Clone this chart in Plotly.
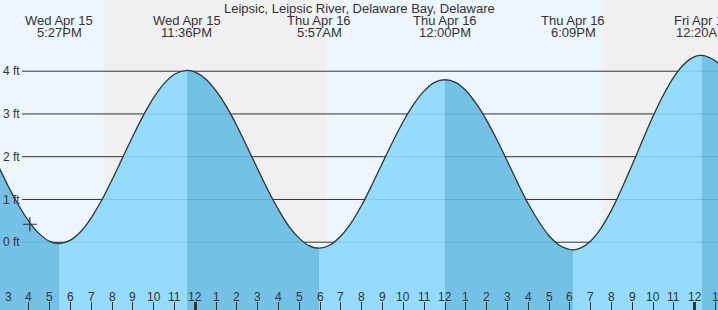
import pandas as pd
import plotly.graph_objects as go

TITLE = "Leipsic, Leipsic River, Delaware Bay, Delaware"

# Tide curve heights (ft), roughly every half hour
TIMES = [
    "2026-04-15 13:30", "2026-04-15 14:00", "2026-04-15 14:30", "2026-04-15 15:00",
    "2026-04-15 15:30", "2026-04-15 16:00", "2026-04-15 16:30", "2026-04-15 17:00",
    "2026-04-15 17:27", "2026-04-15 18:00", "2026-04-15 18:30", "2026-04-15 19:00",
    "2026-04-15 19:30", "2026-04-15 20:00", "2026-04-15 20:30", "2026-04-15 21:00",
    "2026-04-15 21:30", "2026-04-15 22:00", "2026-04-15 22:30", "2026-04-15 23:00",
    "2026-04-15 23:36", "2026-04-16 00:00", "2026-04-16 00:30", "2026-04-16 01:00",
    "2026-04-16 01:30", "2026-04-16 02:00", "2026-04-16 02:30", "2026-04-16 03:00",
    "2026-04-16 03:30", "2026-04-16 04:00", "2026-04-16 04:30", "2026-04-16 05:00",
    "2026-04-16 05:30", "2026-04-16 05:57", "2026-04-16 06:30", "2026-04-16 07:00",
    "2026-04-16 07:30", "2026-04-16 08:00", "2026-04-16 08:30", "2026-04-16 09:00",
    "2026-04-16 09:30", "2026-04-16 10:00", "2026-04-16 10:30", "2026-04-16 11:00",
    "2026-04-16 11:30", "2026-04-16 12:00", "2026-04-16 12:30", "2026-04-16 13:00",
    "2026-04-16 13:30", "2026-04-16 14:00", "2026-04-16 14:30", "2026-04-16 15:00",
    "2026-04-16 15:30", "2026-04-16 16:00", "2026-04-16 16:30", "2026-04-16 17:00",
    "2026-04-16 17:30", "2026-04-16 18:09", "2026-04-16 18:30", "2026-04-16 19:00",
    "2026-04-16 19:30", "2026-04-16 20:00", "2026-04-16 20:30", "2026-04-16 21:00",
    "2026-04-16 21:30", "2026-04-16 22:00", "2026-04-16 22:30", "2026-04-16 23:00",
    "2026-04-16 23:30", "2026-04-17 00:00", "2026-04-17 00:20", "2026-04-17 01:00",
    "2026-04-17 01:30", "2026-04-17 02:00",
]
HEIGHTS = [
    2.81, 2.32, 1.82, 1.32,
    0.87, 0.49, 0.20, 0.02,
    -0.03, 0.05, 0.25, 0.57,
    0.98, 1.46, 1.97, 2.48,
    2.96, 3.38, 3.71, 3.93,
    4.02, 3.98, 3.82, 3.54,
    3.17, 2.72, 2.22, 1.71,
    1.21, 0.76, 0.37, 0.09,
    -0.09, -0.14, -0.06, 0.15,
    0.46, 0.87, 1.35, 1.86,
    2.36, 2.83, 3.23, 3.54,
    3.74, 3.80, 3.74, 3.55,
    3.24, 2.85, 2.39, 1.89,
    1.38, 0.90, 0.49, 0.15,
    -0.07, -0.18, -0.14, 0.03,
    0.33, 0.75, 1.26, 1.82,
    2.39, 2.95, 3.45, 3.87,
    4.17, 4.34, 4.37, 4.24,
    3.99, 3.62,
]

# High / low tide events
EXT_TIMES = ["2026-04-15 17:27", "2026-04-15 23:36", "2026-04-16 05:57",
             "2026-04-16 12:00", "2026-04-16 18:09", "2026-04-17 00:20"]
EXT_DATES = ["Wed Apr 15", "Wed Apr 15", "Thu Apr 16", "Thu Apr 16", "Thu Apr 16", "Fri Apr 17"]
EXT_CLOCK = ["5:27PM", "11:36PM", "5:57AM", "12:00PM", "6:09PM", "12:20AM"]

# Current time marker
NOW_TIME = "2026-04-15 16:03"
NOW_HEIGHT = 0.42

# Day / night
SUNSET_1 = "2026-04-15 19:37"
SUNRISE = "2026-04-16 06:21"
SUNSET_2 = "2026-04-16 19:36"

X_RANGE = ["2026-04-15 14:36:54", "2026-04-17 01:07:05"]
Y_RANGE = [-1.586, 5.666]

Y_TICKS = [0, 1, 2, 3, 4]
Y_LABELS = ["0 ft", "1 ft", "2 ft", "3 ft", "4 ft"]

TICK_LABELS = ["3", "4", "5", "6", "7", "8", "9", "10", "11", "12",
               "1", "2", "3", "4", "5", "6", "7", "8", "9", "10", "11", "12",
               "1", "2", "3", "4", "5", "6", "7", "8", "9", "10", "11", "12", "1"]
TICK_TIMES = pd.date_range("2026-04-15 15:00", periods=len(TICK_LABELS), freq="h")
MIDNIGHTS = ["2026-04-16 00:00", "2026-04-17 00:00"]

FONT = "Liberation Sans, Arial, sans-serif"
TXT = "#333333"
DAY = "#EDF6FF"
NIGHT = "#F0F0F0"
RISING = "rgba(137,216,253,0.9)"
FALLING = "rgba(101,187,226,0.9)"

t = pd.to_datetime(pd.Series(TIMES))
h = pd.Series(HEIGHTS)

fig = go.Figure()

bounds = [t.iloc[0]] + list(pd.to_datetime(EXT_TIMES)) + [t.iloc[-1]]
for a, b in zip(bounds[:-1], bounds[1:]):
    m = (t >= a) & (t <= b)
    st, sh = t[m], h[m]
    color = FALLING if sh.iloc[-1] < sh.iloc[0] else RISING
    fig.add_trace(go.Scatter(x=[st.iloc[0], st.iloc[-1]], y=[-3, -3], mode="lines",
                             line=dict(width=0), hoverinfo="skip", showlegend=False))
    fig.add_trace(go.Scatter(x=st, y=sh, mode="lines", line=dict(width=0, shape="spline"),
                             fill="tonexty", fillcolor=color, hoverinfo="skip",
                             showlegend=False))

fig.add_trace(go.Scatter(x=t, y=h, mode="lines",
                         line=dict(color="#333333", width=1.3, shape="spline"),
                         showlegend=False))
fig.add_trace(go.Scatter(x=[NOW_TIME], y=[NOW_HEIGHT], mode="markers",
                         marker=dict(symbol="cross-thin", size=10,
                                     line=dict(color="#333333", width=1.2)),
                         showlegend=False))
fig.add_trace(go.Scatter(x=[MIDNIGHTS[0]], y=[-3], xaxis="x2", mode="markers",
                         marker=dict(size=1, opacity=0), showlegend=False,
                         hoverinfo="skip"))

shapes = []
for x0, x1, c in [(X_RANGE[0], SUNSET_1, DAY), (SUNSET_1, SUNRISE, NIGHT),
                  (SUNRISE, SUNSET_2, DAY), (SUNSET_2, X_RANGE[1], NIGHT)]:
    shapes.append(dict(type="rect", xref="x", yref="paper", x0=x0, x1=x1, y0=0, y1=1,
                       fillcolor=c, line=dict(width=0), layer="below"))
for k in Y_TICKS:
    shapes.append(dict(type="line", xref="paper", yref="y", x0=22 / 718, x1=1, y0=k, y1=k,
                       line=dict(color="#333333", width=1), layer="below"))

annotations = [dict(text=TITLE, xref="paper", yref="paper", x=0.5, y=1, yshift=-8,
                    yanchor="middle", showarrow=False, font=dict(size=13, color=TXT))]
for xt, d, c in zip(EXT_TIMES, EXT_DATES, EXT_CLOCK):
    annotations.append(dict(text=d, x=xt, xref="x", yref="paper", y=1, yshift=-20,
                            yanchor="middle", showarrow=False, font=dict(size=13, color=TXT)))
    annotations.append(dict(text=c, x=xt, xref="x", yref="paper", y=1, yshift=-32.5,
                            yanchor="middle", showarrow=False, font=dict(size=13, color=TXT)))
for xt, lab in zip(TICK_TIMES, TICK_LABELS):
    annotations.append(dict(text=lab, x=xt, xref="x", yref="paper", y=0, yshift=13,
                            yanchor="middle", showarrow=False, font=dict(size=12, color=TXT)))

fig.update_layout(
    width=718, height=310, margin=dict(l=0, r=0, t=0, b=0),
    paper_bgcolor="white", plot_bgcolor="white",
    font=dict(family=FONT, color=TXT, size=12),
    shapes=shapes, annotations=annotations, showlegend=False,
    xaxis=dict(type="date", range=X_RANGE, tickvals=TICK_TIMES,
               ticks="inside", ticklen=8, tickwidth=1, tickcolor="#333333",
               showticklabels=False, showgrid=False, zeroline=False, showline=False,
               fixedrange=True),
    xaxis2=dict(type="date", overlaying="x", matches="x", anchor="y", side="bottom",
                tickvals=MIDNIGHTS, ticks="inside", ticklen=8, tickwidth=3,
                tickcolor="#333333", showticklabels=False, showgrid=False,
                zeroline=False, showline=False),
    yaxis=dict(range=Y_RANGE, tickvals=Y_TICKS, ticktext=Y_LABELS, ticks="",
               ticklabelposition="inside", showgrid=False, zeroline=False, showline=False,
               tickfont=dict(size=12, color=TXT), fixedrange=True),
    hovermode=False,
)

fig.write_html("out.html")
